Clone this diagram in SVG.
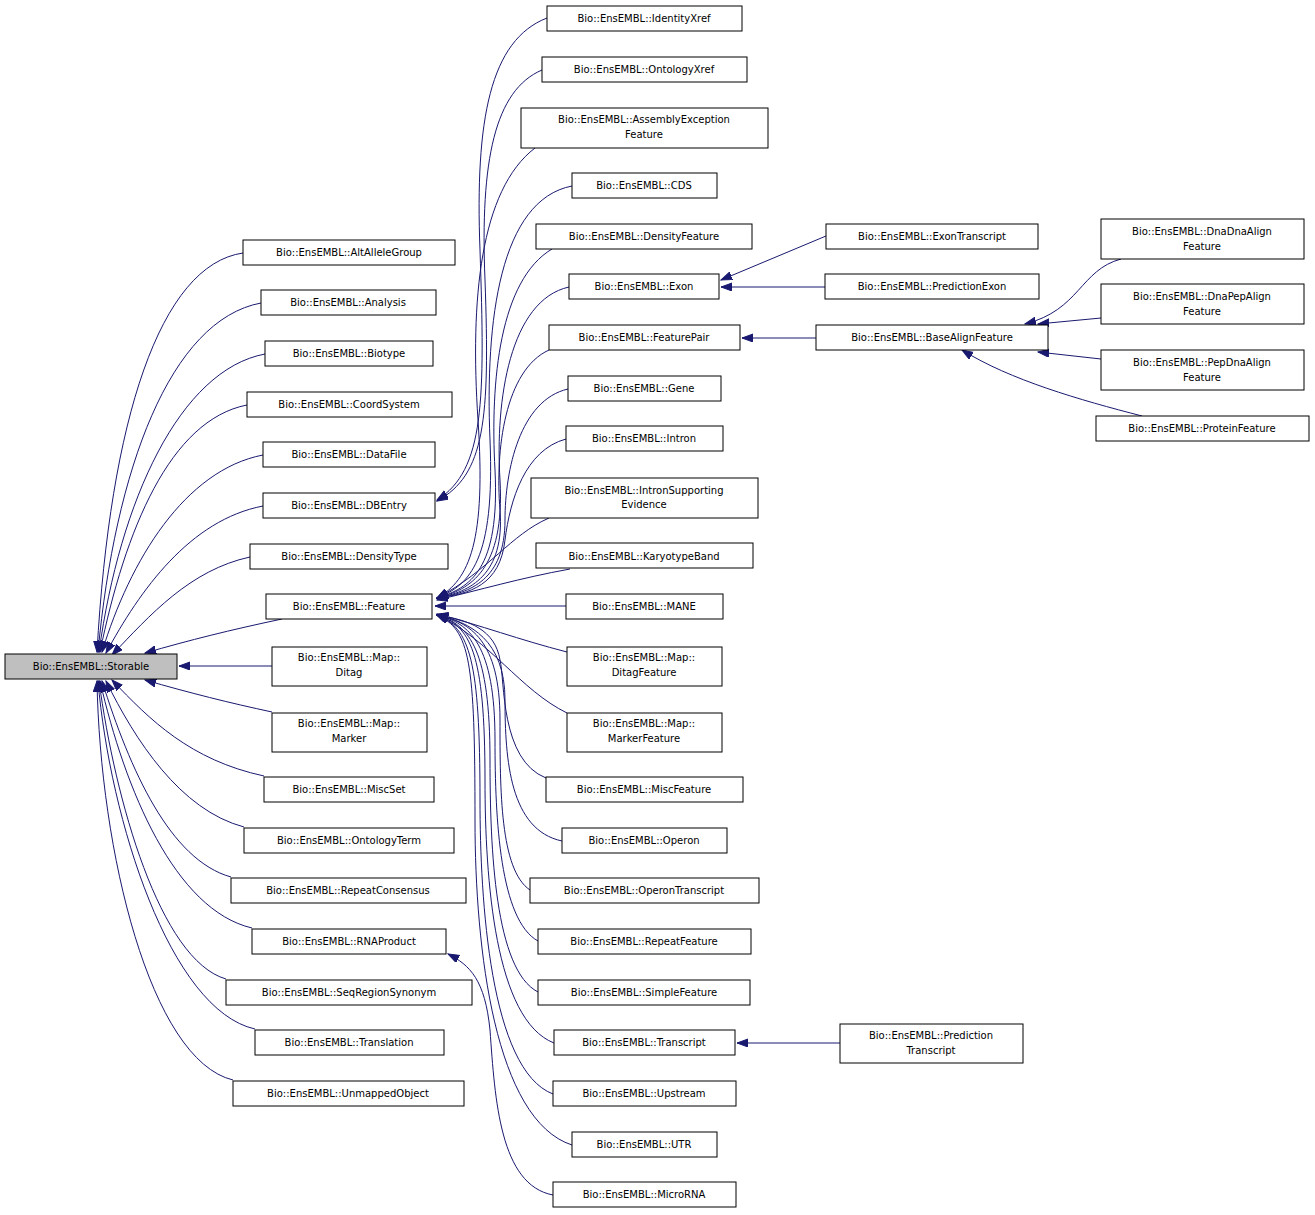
<svg xmlns="http://www.w3.org/2000/svg" width="1315" height="1215" viewBox="0 0 1315 1215">
<defs>
<marker id="a" markerUnits="userSpaceOnUse" markerWidth="12" markerHeight="10" refX="11" refY="4" orient="auto"><path d="M0,0 L11,4 L0,8 Z" fill="#191970" stroke="#191970"/></marker>
<style>
rect{fill:#fff;stroke:#000;stroke-width:1}
text{font-family:"DejaVu Sans",sans-serif;font-size:10px;text-anchor:middle;fill:#000}
#edges path{fill:none;stroke:#191970;stroke-width:1;marker-end:url(#a)}
</style>
</defs>
<rect width="1315" height="1215" fill="#fff" stroke="none" style="fill:#fff;stroke:none"/>
<g id="edges">
<!-- Storable inheritors -->
<path d="M243,253 C160,265 110,420 97,652"/>
<path d="M261,303 C170,320 115,470 98,652"/>
<path d="M265,354 C180,370 120,500 99,652"/>
<path d="M247,405 C170,420 125,530 100,652"/>
<path d="M263,455 C185,470 130,560 102,652"/>
<path d="M263,506 C190,520 140,590 106,653"/>
<path d="M250,557 C190,570 150,615 112,655"/>
<path d="M282,619 C230,630 190,640 145,653"/>
<path d="M272,666 L179,666"/>
<path d="M272,712 C230,703 190,693 145,680"/>
<path d="M264,776 C190,760 150,720 112,680"/>
<path d="M244,827 C180,810 135,740 106,681"/>
<path d="M231,877 C170,860 130,770 102,681"/>
<path d="M252,928 C175,910 125,790 100,681"/>
<path d="M226,979 C160,960 115,800 99,681"/>
<path d="M255,1029 C170,1010 110,820 98,681"/>
<path d="M233,1080 C150,1060 100,850 97,681"/>
<!-- DBEntry inheritors -->
<path d="M547,18 C490,40 475,120 480,250 C485,400 485,470 437,500"/>
<path d="M542,70 C495,90 480,160 485,280 C490,420 485,475 437,501"/>
<!-- Feature inheritors -->
<path d="M535,148 C480,190 470,300 478,420 C486,540 470,580 437,598"/>
<path d="M572,186 C500,200 485,320 490,440 C495,560 470,585 437,598"/>
<path d="M552,249 C500,280 490,380 495,470 C500,570 470,588 437,598"/>
<path d="M569,287 C510,300 495,400 500,480 C505,570 470,590 437,598"/>
<path d="M549,350 C505,370 495,450 500,510 C505,575 470,592 437,598"/>
<path d="M568,389 C520,400 505,470 505,520 C505,580 470,593 437,598"/>
<path d="M566,439 C525,450 510,500 505,540 C500,585 470,594 437,598"/>
<path d="M549,518 C510,535 490,570 437,598"/>
<path d="M570,569 C520,578 480,590 437,600"/>
<path d="M566,606 L435,606"/>
<path d="M567,652 C520,640 480,625 437,614"/>
<path d="M567,713 C520,690 490,640 437,615"/>
<path d="M546,778 C500,760 505,680 500,660 C495,630 470,620 437,615"/>
<path d="M562,841 C510,830 505,760 505,700 C505,640 470,622 437,615"/>
<path d="M530,890 C500,870 500,790 500,720 C500,640 470,622 437,615"/>
<path d="M538,941 C500,920 495,820 495,740 C495,645 470,623 437,615"/>
<path d="M538,992 C495,970 490,850 490,760 C490,650 470,625 437,615"/>
<path d="M554,1043 C495,1020 485,880 485,780 C485,650 470,626 437,615"/>
<path d="M553,1094 C490,1070 480,900 480,800 C480,660 470,628 437,615"/>
<path d="M572,1145 C495,1120 475,950 475,820 C475,660 470,630 437,615"/>
<!-- RNAProduct -->
<path d="M553,1195 C500,1185 495,1100 490,1030 C485,980 470,965 448,954"/>
<!-- Exon -->
<path d="M826,236 L721,280"/>
<path d="M825,287 L721,287"/>
<!-- FeaturePair -->
<path d="M816,338 L742,338"/>
<!-- BaseAlignFeature -->
<path d="M1121,259 C1080,270 1080,310 1025,324"/>
<path d="M1101,318 L1038,324"/>
<path d="M1101,359 L1038,352"/>
<path d="M1142,416 C1080,400 1010,380 962,350"/>
<!-- Transcript -->
<path d="M840,1043 L737,1043"/>
</g>
<g id="n_storable"><rect x="5" y="654" width="172" height="25" style="fill:#bfbfbf"/><text x="91" y="670">Bio::EnsEMBL::Storable</text></g>
<g id="n_altallelegroup"><rect x="243" y="240" width="212" height="25"/><text x="349" y="256">Bio::EnsEMBL::AltAlleleGroup</text></g>
<g id="n_analysis"><rect x="261" y="290" width="175" height="25"/><text x="348" y="306">Bio::EnsEMBL::Analysis</text></g>
<g id="n_biotype"><rect x="265" y="341" width="168" height="25"/><text x="349" y="357">Bio::EnsEMBL::Biotype</text></g>
<g id="n_coordsystem"><rect x="247" y="392" width="205" height="25"/><text x="349" y="408">Bio::EnsEMBL::CoordSystem</text></g>
<g id="n_datafile"><rect x="263" y="442" width="172" height="25"/><text x="349" y="458">Bio::EnsEMBL::DataFile</text></g>
<g id="n_dbentry"><rect x="263" y="493" width="172" height="25"/><text x="349" y="509">Bio::EnsEMBL::DBEntry</text></g>
<g id="n_densitytype"><rect x="250" y="544" width="198" height="25"/><text x="349" y="560">Bio::EnsEMBL::DensityType</text></g>
<g id="n_feature"><rect x="266" y="594" width="166" height="25"/><text x="349" y="610">Bio::EnsEMBL::Feature</text></g>
<g id="n_mapditag"><rect x="272" y="647" width="155" height="39"/><text x="349" y="661">Bio::EnsEMBL::Map::</text><text x="349" y="676">Ditag</text></g>
<g id="n_mapmarker"><rect x="272" y="713" width="155" height="39"/><text x="349" y="727">Bio::EnsEMBL::Map::</text><text x="349" y="742">Marker</text></g>
<g id="n_miscset"><rect x="264" y="777" width="170" height="25"/><text x="349" y="793">Bio::EnsEMBL::MiscSet</text></g>
<g id="n_ontologyterm"><rect x="244" y="828" width="210" height="25"/><text x="349" y="844">Bio::EnsEMBL::OntologyTerm</text></g>
<g id="n_repeatconsensus"><rect x="231" y="878" width="235" height="25"/><text x="348" y="894">Bio::EnsEMBL::RepeatConsensus</text></g>
<g id="n_rnaproduct"><rect x="252" y="929" width="194" height="25"/><text x="349" y="945">Bio::EnsEMBL::RNAProduct</text></g>
<g id="n_seqregionsynonym"><rect x="226" y="980" width="246" height="25"/><text x="349" y="996">Bio::EnsEMBL::SeqRegionSynonym</text></g>
<g id="n_translation"><rect x="255" y="1030" width="189" height="25"/><text x="349" y="1046">Bio::EnsEMBL::Translation</text></g>
<g id="n_unmappedobject"><rect x="233" y="1081" width="231" height="25"/><text x="348" y="1097">Bio::EnsEMBL::UnmappedObject</text></g>
<g id="n_identityxref"><rect x="547" y="6" width="195" height="25"/><text x="644" y="22">Bio::EnsEMBL::IdentityXref</text></g>
<g id="n_ontologyxref"><rect x="542" y="57" width="205" height="25"/><text x="644" y="73">Bio::EnsEMBL::OntologyXref</text></g>
<g id="n_assemblyexception"><rect x="521" y="108" width="247" height="40"/><text x="644" y="123">Bio::EnsEMBL::AssemblyException</text><text x="644" y="138">Feature</text></g>
<g id="n_cds"><rect x="572" y="173" width="145" height="25"/><text x="644" y="189">Bio::EnsEMBL::CDS</text></g>
<g id="n_densityfeature"><rect x="536" y="224" width="216" height="25"/><text x="644" y="240">Bio::EnsEMBL::DensityFeature</text></g>
<g id="n_exon"><rect x="569" y="274" width="150" height="25"/><text x="644" y="290">Bio::EnsEMBL::Exon</text></g>
<g id="n_featurepair"><rect x="549" y="325" width="191" height="25"/><text x="644" y="341">Bio::EnsEMBL::FeaturePair</text></g>
<g id="n_gene"><rect x="568" y="376" width="153" height="25"/><text x="644" y="392">Bio::EnsEMBL::Gene</text></g>
<g id="n_intron"><rect x="566" y="426" width="157" height="25"/><text x="644" y="442">Bio::EnsEMBL::Intron</text></g>
<g id="n_intronsupporting"><rect x="531" y="478" width="227" height="40"/><text x="644" y="494">Bio::EnsEMBL::IntronSupporting</text><text x="644" y="508">Evidence</text></g>
<g id="n_karyotypeband"><rect x="536" y="543" width="217" height="25"/><text x="644" y="560">Bio::EnsEMBL::KaryotypeBand</text></g>
<g id="n_mane"><rect x="566" y="594" width="157" height="25"/><text x="644" y="610">Bio::EnsEMBL::MANE</text></g>
<g id="n_mapditagfeature"><rect x="567" y="647" width="155" height="39"/><text x="644" y="661">Bio::EnsEMBL::Map::</text><text x="644" y="676">DitagFeature</text></g>
<g id="n_mapmarkerfeature"><rect x="567" y="713" width="155" height="39"/><text x="644" y="727">Bio::EnsEMBL::Map::</text><text x="644" y="742">MarkerFeature</text></g>
<g id="n_miscfeature"><rect x="546" y="777" width="197" height="25"/><text x="644" y="793">Bio::EnsEMBL::MiscFeature</text></g>
<g id="n_operon"><rect x="562" y="828" width="165" height="25"/><text x="644" y="844">Bio::EnsEMBL::Operon</text></g>
<g id="n_operontranscript"><rect x="530" y="878" width="229" height="25"/><text x="644" y="894">Bio::EnsEMBL::OperonTranscript</text></g>
<g id="n_repeatfeature"><rect x="538" y="929" width="213" height="25"/><text x="644" y="945">Bio::EnsEMBL::RepeatFeature</text></g>
<g id="n_simplefeature"><rect x="538" y="980" width="212" height="25"/><text x="644" y="996">Bio::EnsEMBL::SimpleFeature</text></g>
<g id="n_transcript"><rect x="554" y="1030" width="181" height="25"/><text x="644" y="1046">Bio::EnsEMBL::Transcript</text></g>
<g id="n_upstream"><rect x="553" y="1081" width="183" height="25"/><text x="644" y="1097">Bio::EnsEMBL::Upstream</text></g>
<g id="n_utr"><rect x="572" y="1132" width="145" height="25"/><text x="644" y="1148">Bio::EnsEMBL::UTR</text></g>
<g id="n_microrna"><rect x="553" y="1182" width="183" height="25"/><text x="644" y="1198">Bio::EnsEMBL::MicroRNA</text></g>
<g id="n_exontranscript"><rect x="826" y="224" width="212" height="25"/><text x="932" y="240">Bio::EnsEMBL::ExonTranscript</text></g>
<g id="n_predictionexon"><rect x="825" y="274" width="214" height="25"/><text x="932" y="290">Bio::EnsEMBL::PredictionExon</text></g>
<g id="n_basealignfeature"><rect x="816" y="325" width="232" height="25"/><text x="932" y="341">Bio::EnsEMBL::BaseAlignFeature</text></g>
<g id="n_predictiontranscript"><rect x="840" y="1024" width="183" height="39"/><text x="931" y="1039">Bio::EnsEMBL::Prediction</text><text x="931" y="1054">Transcript</text></g>
<g id="n_dnadna"><rect x="1101" y="219" width="203" height="40"/><text x="1202" y="235">Bio::EnsEMBL::DnaDnaAlign</text><text x="1202" y="250">Feature</text></g>
<g id="n_dnapep"><rect x="1101" y="284" width="203" height="40"/><text x="1202" y="300">Bio::EnsEMBL::DnaPepAlign</text><text x="1202" y="315">Feature</text></g>
<g id="n_pepdna"><rect x="1101" y="350" width="203" height="40"/><text x="1202" y="366">Bio::EnsEMBL::PepDnaAlign</text><text x="1202" y="381">Feature</text></g>
<g id="n_proteinfeature"><rect x="1096" y="416" width="213" height="25"/><text x="1202" y="432">Bio::EnsEMBL::ProteinFeature</text></g>
</svg>
